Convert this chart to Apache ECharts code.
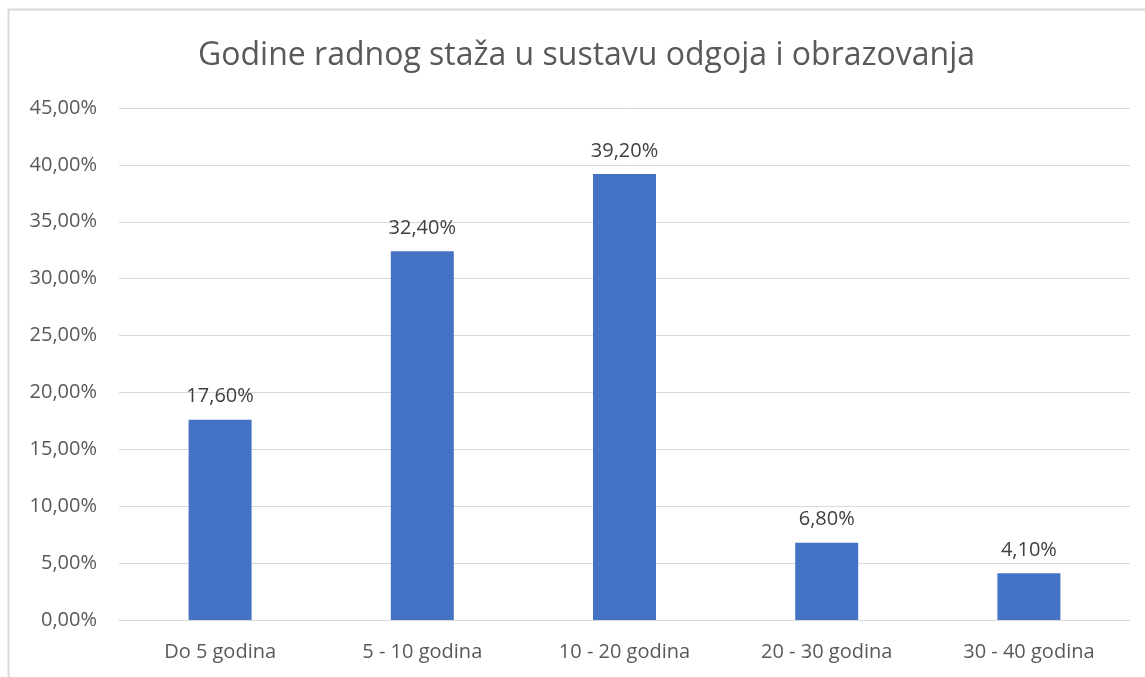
<!DOCTYPE html>
<html>
<head>
<meta charset="utf-8">
<script src="https://cdn.jsdelivr.net/npm/echarts@6/dist/echarts.min.js"></script>
<style>
  html, body { margin: 0; padding: 0; background: #fff; }
  #chart { width: 1145px; height: 677px; }
</style>
</head>
<body>
<div id="chart"></div>
<script>
// podaci
var categories = ['Do 5 godina', '5 - 10 godina', '10 - 20 godina', '20 - 30 godina', '30 - 40 godina'];
var values = [17.6, 32.4, 39.2, 6.8, 4.1];
var titleText = 'Godine radnog staža u sustavu odgoja i obrazovanja';

var fontFam = '"Open Sans", "Noto Sans", sans-serif';

function pct(v) {
    return v.toFixed(2).replace('.', ',') + '%';
}

var myChart = echarts.init(document.getElementById('chart'));

myChart.setOption({
    backgroundColor: '#ffffff',
    animation: false,
    title: {
        text: titleText,
        left: 193,
        top: 35,
        textStyle: {
            fontFamily: fontFam,
            fontSize: 32,
            fontWeight: 'normal',
            color: '#595959'
        }
    },
    graphic: [{
        type: 'rect',
        shape: { x: 8.5, y: 9.5, width: 1150, height: 700 },
        style: { fill: 'none', stroke: '#d9d9d9', lineWidth: 2 },
        silent: true
    }],
    grid: {
        left: 119,
        right: 15,
        top: 108,
        bottom: 57,
        containLabel: false
    },
    xAxis: {
        type: 'category',
        data: categories,
        axisLine: { show: true, lineStyle: { color: '#d9d9d9', width: 1 } },
        axisTick: { show: false },
        axisLabel: {
            fontFamily: fontFam,
            fontSize: 20,
            color: '#595959',
            margin: 22
        }
    },
    yAxis: {
        type: 'value',
        min: 0,
        max: 45,
        interval: 5,
        axisLine: { show: false },
        axisTick: { show: false },
        splitLine: { lineStyle: { color: '#d9d9d9', width: 1 } },
        axisLabel: {
            fontFamily: fontFam,
            fontSize: 20,
            color: '#595959',
            margin: 22,
            formatter: function (v) { return pct(v); }
        }
    },
    series: [{
        type: 'bar',
        data: values,
        barWidth: 63,
        itemStyle: { color: '#4472c4' },
        label: {
            show: true,
            position: 'top',
            distance: 13,
            fontFamily: fontFam,
            fontSize: 20,
            color: '#404040',
            formatter: function (p) { return pct(p.value); }
        }
    }]
});
</script>
</body>
</html>
